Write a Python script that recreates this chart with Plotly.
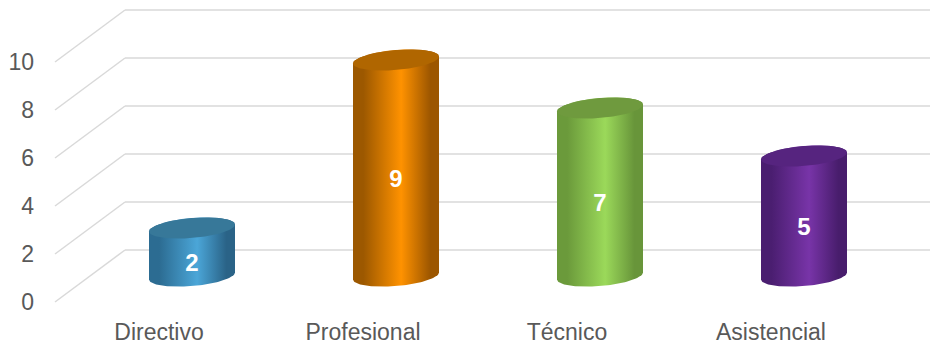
import numpy as np
import plotly.graph_objects as go

# Data
categories = ["Directivo", "Profesional", "Técnico", "Asistencial"]
values = [2, 9, 7, 5]
y_ticks = [0, 2, 4, 6, 8, 10]

# Styling per category: (left edge, highlight, right edge, top cap)
body_colors = [
    ("#2c6c92", "#4ba6d8", "#2a6387", "#377899"),
    ("#9c5800", "#ff9200", "#9c5600", "#b06600"),
    ("#6b9a3b", "#9bd95a", "#68953a", "#6f9a3e"),
    ("#4a1e70", "#7834a8", "#481d6c", "#56247f"),
]

W, H = 930, 346
ML, MB = 35, 30
PX_X = 204.0          # pixels per category step
PX_Y = 24.0           # pixels per value unit
X0_PX = 192.0         # pixel x of first category centre (mid depth)
Y0_PX = 276.0         # pixel y of value 0 (mid depth)

plot_h = H - MB
x_rng = [(ML - X0_PX) / PX_X, (W - X0_PX) / PX_X]
y_rng = [(Y0_PX - plot_h) / PX_Y, Y0_PX / PX_Y]

# Depth of the floor/back wall (in axis units)
DX = 70.0 / PX_X
DY = 52.0 / PX_Y

# Cylinder geometry in axis units
A = 43.0 / PX_X       # half width
B = 10.0 / PX_Y       # half height of the elliptical cap
S = 3.5 / PX_Y        # tilt of the caps (right side higher)

FONT = "Liberation Sans, Arial, sans-serif"

fig = go.Figure()

t = np.linspace(0, 2 * np.pi, 120)

def ellipse(cx, cy, t):
    return cx + A * np.cos(t), cy + B * np.sin(t) + S * np.cos(t)

for i, (cat, v) in enumerate(zip(categories, values)):
    left, mid, right, cap = body_colors[i]
    # body outline: top back half, then bottom front half
    tt_top = np.linspace(0, np.pi, 60)
    xt, yt = ellipse(i, v, tt_top)
    tb = np.linspace(np.pi, 2 * np.pi, 60)
    xb, yb = ellipse(i, 0, tb)
    xs = np.concatenate([xt, xb, [xt[0]]])
    ys = np.concatenate([yt, yb, [yt[0]]])
    fig.add_trace(go.Scatter(
        x=xs, y=ys, mode="lines", line=dict(width=0), fill="toself",
        fillgradient=dict(type="horizontal",
                          colorscale=[[0, left], [0.12, left], [0.56, mid], [0.9, right], [1, right]],
                          start=i - A, stop=i + A),
        hoverinfo="skip", showlegend=False))
    xc, yc = ellipse(i, v, t)
    fig.add_trace(go.Scatter(
        x=xc, y=yc, mode="lines", line=dict(width=0), fill="toself",
        fillcolor=cap, hoverinfo="skip", showlegend=False))

# value labels in the middle of each cylinder's front face
fig.add_trace(go.Scatter(
    x=list(range(len(values))), y=[v / 2 - B - 0.12 for v in values], mode="text",
    text=[str(v) for v in values],
    textfont=dict(family=FONT, size=24, color="white", weight="bold"),
    hoverinfo="skip", showlegend=False))

# gridlines: diagonal on the side floor + horizontal on the back wall
grid_shapes = []
for g in y_ticks:
    xf = (55.0 - X0_PX) / PX_X
    yf = g - DY / 2
    grid_shapes.append(dict(type="line", xref="x", yref="y",
                            x0=xf, y0=yf, x1=xf + DX, y1=yf + DY,
                            line=dict(color="#d9d9d9", width=1.5), layer="below"))
    grid_shapes.append(dict(type="line", xref="x", yref="y",
                            x0=xf + DX, y0=yf + DY, x1=x_rng[1], y1=yf + DY,
                            line=dict(color="#d9d9d9", width=1.5), layer="below"))
fig.update_layout(shapes=grid_shapes)

# front-plane axes carrying the tick labels
fig.add_trace(go.Scatter(
    x=categories, y=values, xaxis="x2", yaxis="y2", mode="markers",
    marker=dict(opacity=0), hoverinfo="skip", showlegend=False))

shift_x = 33.0 / PX_X
shift_y = DY / 2

fig.update_layout(
    width=W, height=H,
    margin=dict(l=ML, r=0, t=0, b=MB),
    paper_bgcolor="white", plot_bgcolor="white",
    xaxis=dict(range=x_rng, visible=False),
    yaxis=dict(range=y_rng, visible=False),
    xaxis2=dict(overlaying="x", side="bottom", type="category",
                range=[x_rng[0] + shift_x, x_rng[1] + shift_x],
                showgrid=False, zeroline=False, showline=False, ticks="",
                tickfont=dict(family=FONT, size=23, color="#595959")),
    yaxis2=dict(overlaying="y", side="left",
                range=[y_rng[0] + shift_y, y_rng[1] + shift_y],
                tickvals=y_ticks, showgrid=False, zeroline=False, showline=False,
                ticks="", tickfont=dict(family=FONT, size=23, color="#595959")),
)

fig.write_html("out.html")
